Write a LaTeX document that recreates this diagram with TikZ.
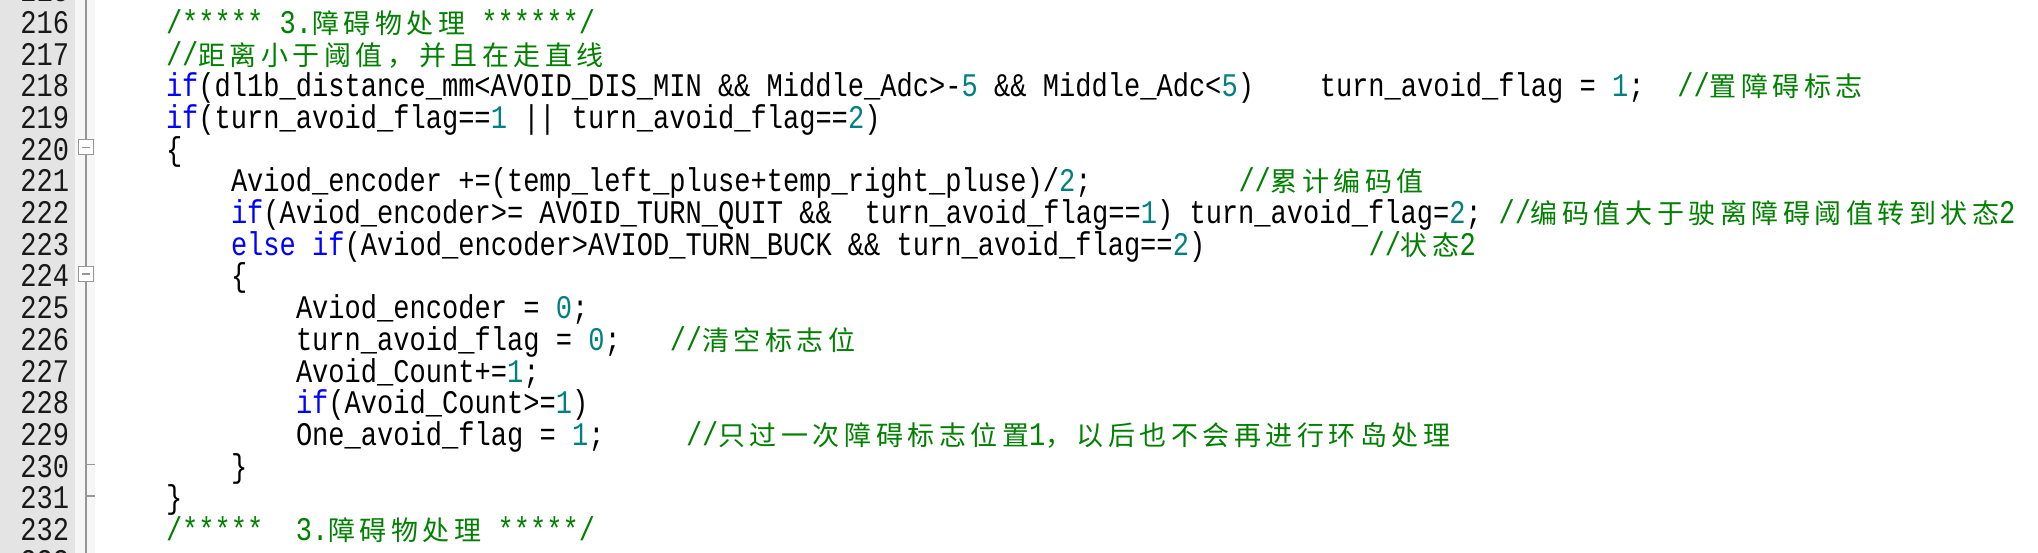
\documentclass[tikz,border=0pt]{standalone}
\usepackage{fontspec}
\newfontfamily\cm{Liberation Mono}[FakeStretch=0.82]
\newfontfamily\cj{Noto Sans CJK SC}[LetterSpace=16.7]
\definecolor{cgreen}{RGB}{0,128,0}
\definecolor{cteal}{RGB}{0,128,128}
\definecolor{cblue}{RGB}{0,0,255}
\definecolor{gutter}{RGB}{228,228,228}
\definecolor{foldbg}{RGB}{246,246,246}
\definecolor{foldln}{RGB}{150,150,150}
\newcommand\K[1]{{\cm\fontsize{33}{33}\selectfont #1}}
\newcommand\B[1]{\textcolor{cblue}{\K{#1}}}
\newcommand\N[1]{\textcolor{cteal}{\K{#1}}}
\newcommand\G[1]{\textcolor{cgreen}{\K{#1}}}
\newcommand\GJ[1]{\textcolor{cgreen}{\cj\fontsize{27}{27}\selectfont #1}}
\newcommand\bl[1]{33.4+(#1-216)*31.7}
\newcommand\cx[1]{166+#1*16.25}
\begin{document}
\begin{tikzpicture}[x=1pt,y=-1pt,
  code/.style={anchor=base west,inner sep=0pt,outer sep=0pt},
  lnum/.style={anchor=base east,inner sep=0pt,outer sep=0pt,text=black!90}]
\useasboundingbox (0,0) rectangle (2038,553);
\fill[white] (0,0) rectangle (2038,553);
\fill[gutter] (0,0) rectangle (75,553);
\fill[foldbg] (75,0) rectangle (95,553);
\draw[foldln,line width=1.2pt] (86,0) -- (86,553);
% fold markers
\foreach \i/\nm in {220/fa,224/fb}{
  \node[draw=foldln,fill=white,line width=1pt,minimum width=15pt,minimum height=15pt,inner sep=0pt] (\nm) at (86,{20.4+(\i-216)*31.7}) {};
  \draw[foldln,line width=1.2pt] ([xshift=-4pt]\nm.center) -- ([xshift=4pt]\nm.center);
}
\foreach \i in {230,231}{
  \draw[foldln,line width=1.2pt] (86,{20.4+(\i-216)*31.7}) -- (95,{20.4+(\i-216)*31.7});
}
% line numbers
\foreach \i in {215,...,233}{
  \node[lnum] (n\i) at (69,{\bl{\i}}) {\K{\i}};
}
% code
\node[code] (l216) at ({\cx{0}},{\bl{216}}) {\G{/***** 3.}\GJ{障碍物处理}\G{ ******/}};
\node[code] (l217) at ({\cx{0}},{\bl{217}}) {\G{//}\GJ{距离小于阈值，并且在走直线}};
\node[code] (l218a) at ({\cx{0}},{\bl{218}}) {\B{if}\K{(dl1b\_distance\_mm<AVOID\_DIS\_MIN \&\& Middle\_Adc>-}\N{5}\K{ \&\& Middle\_Adc<}\N{5}\K{)}};
\node[code] (l218b) at ({\cx{71}},{\bl{218}}) {\K{turn\_avoid\_flag = }\N{1}\K{;}};
\node[code] (l218c) at ({\cx{93}},{\bl{218}}) {\G{//}\GJ{置障碍标志}};
\node[code] (l219) at ({\cx{0}},{\bl{219}}) {\B{if}\K{(turn\_avoid\_flag==}\N{1}\K{ || turn\_avoid\_flag==}\N{2}\K{)}};
\node[code] (l220) at ({\cx{0}},{\bl{220}}) {\K{\{}};
\node[code] (l221a) at ({\cx{4}},{\bl{221}}) {\K{Aviod\_encoder +=(temp\_left\_pluse+temp\_right\_pluse)/}\N{2}\K{;}};
\node[code] (l221b) at ({\cx{66}},{\bl{221}}) {\G{//}\GJ{累计编码值}};
\node[code] (l222a) at ({\cx{4}},{\bl{222}}) {\B{if}\K{(Aviod\_encoder>= AVOID\_TURN\_QUIT \&\&}};
\node[code] (l222b) at ({\cx{43}},{\bl{222}}) {\K{turn\_avoid\_flag==}\N{1}\K{) turn\_avoid\_flag=}\N{2}\K{;}};
\node[code] (l222c) at ({\cx{82}},{\bl{222}}) {\G{//}\GJ{编码值大于驶离障碍阈值转到状态}\G{2}};
\node[code] (l223a) at ({\cx{4}},{\bl{223}}) {\B{else if}\K{(Aviod\_encoder>AVIOD\_TURN\_BUCK \&\& turn\_avoid\_flag==}\N{2}\K{)}};
\node[code] (l223b) at ({\cx{74}},{\bl{223}}) {\G{//}\GJ{状态}\G{2}};
\node[code] (l224) at ({\cx{4}},{\bl{224}}) {\K{\{}};
\node[code] (l225) at ({\cx{8}},{\bl{225}}) {\K{Aviod\_encoder = }\N{0}\K{;}};
\node[code] (l226a) at ({\cx{8}},{\bl{226}}) {\K{turn\_avoid\_flag = }\N{0}\K{;}};
\node[code] (l226b) at ({\cx{31}},{\bl{226}}) {\G{//}\GJ{清空标志位}};
\node[code] (l227) at ({\cx{8}},{\bl{227}}) {\K{Avoid\_Count+=}\N{1}\K{;}};
\node[code] (l228) at ({\cx{8}},{\bl{228}}) {\B{if}\K{(Avoid\_Count>=}\N{1}\K{)}};
\node[code] (l229a) at ({\cx{8}},{\bl{229}}) {\K{One\_avoid\_flag = }\N{1}\K{;}};
\node[code] (l229b) at ({\cx{32}},{\bl{229}}) {\G{//}\GJ{只过一次障碍标志位置}\G{1}\GJ{，以后也不会再进行环岛处理}};
\node[code] (l230) at ({\cx{4}},{\bl{230}}) {\K{\}}};
\node[code] (l231) at ({\cx{0}},{\bl{231}}) {\K{\}}};
\node[code] (l232) at ({\cx{0}},{\bl{232}}) {\G{/*****~~3.}\GJ{障碍物处理}\G{ *****/}};
\end{tikzpicture}
\end{document}
